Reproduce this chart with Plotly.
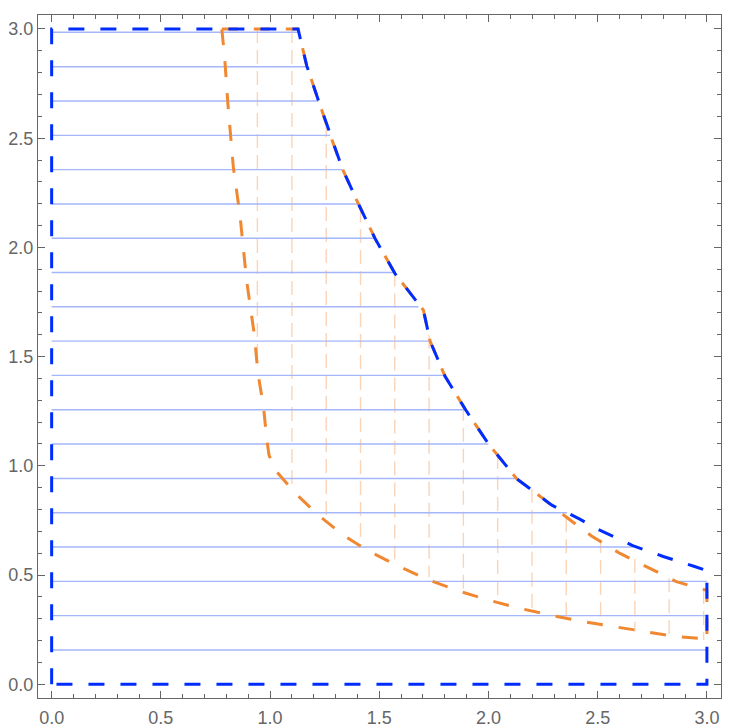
import plotly.graph_objects as go

# --- data ---

# blue region boundary (closed)
blue_x = [0.0, 0.0, 1.128, 1.168, 1.221, 1.275, 1.331, 1.404, 1.481, 1.572, 1.702,
          1.733, 1.801, 1.893, 2.0, 2.13, 2.29, 2.42, 2.5, 2.66, 2.8, 2.94, 3.0, 3.0, 0.0]
blue_y = [0.0, 3.0, 3.0, 2.831, 2.674, 2.515, 2.36, 2.2, 2.04, 1.88, 1.713,
          1.57, 1.41, 1.26, 1.1, 0.94, 0.82, 0.755, 0.71, 0.635, 0.585, 0.54, 0.52, 0.0, 0.0]

# orange region boundary (closed)
orange_x = [0.779, 1.128, 1.168, 1.221, 1.275, 1.331, 1.404, 1.481, 1.572, 1.702,
            1.733, 1.801, 1.893, 2.0, 2.13, 2.25, 2.35, 2.47, 2.6, 2.72, 2.86, 2.97, 3.0,
            3.0, 2.98, 2.86, 2.72, 2.57, 2.43, 2.29, 2.15, 2.0, 1.86, 1.72, 1.59, 1.45,
            1.335, 1.22, 1.115, 1.02, 0.995, 0.985, 0.97, 0.945, 0.928, 0.893, 0.862,
            0.832, 0.807, 0.792, 0.779]
orange_y = [3.0, 3.0, 2.831, 2.674, 2.515, 2.36, 2.2, 2.04, 1.88, 1.713,
            1.57, 1.41, 1.26, 1.1, 0.94, 0.85, 0.77, 0.68, 0.60, 0.54, 0.47, 0.438, 0.43,
            0.2, 0.209, 0.218, 0.24, 0.262, 0.287, 0.315, 0.346, 0.385, 0.428, 0.48, 0.54, 0.61,
            0.683, 0.775, 0.875, 0.985, 1.05, 1.12, 1.27, 1.42, 1.6, 1.845, 2.15,
            2.365, 2.655, 2.87, 3.0]

# horizontal hatching of the blue region: height and right end
hatch_y = [0.157, 0.314, 0.471, 0.628, 0.785, 0.942, 1.100, 1.257, 1.414, 1.571,
           1.728, 1.885, 2.042, 2.199, 2.356, 2.513, 2.670, 2.827, 2.985]
hatch_x_end = [3.0, 3.0, 3.0, 2.66, 2.36, 2.13, 2.0, 1.89, 1.80, 1.733,
               1.68, 1.572, 1.481, 1.40, 1.33, 1.275, 1.22, 1.168, 1.128]

# vertical hatching of the orange region: position, bottom and top
vhatch_x = [0.942, 1.100, 1.257, 1.414, 1.571, 1.728, 1.885, 2.042, 2.199, 2.356,
            2.513, 2.670, 2.827, 2.985]
vhatch_lo = [1.46, 0.896, 0.751, 0.64, 0.55, 0.49, 0.42, 0.375, 0.335, 0.295,
             0.265, 0.24, 0.218, 0.203]
vhatch_hi = [3.0, 3.0, 2.57, 2.18, 1.885, 1.6, 1.27, 1.05, 0.895, 0.76,
             0.665, 0.575, 0.485, 0.432]

BLUE = "rgb(0,45,255)"
ORANGE = "rgb(240,136,50)"
GREY = "#666666"

# segments with None separators
hx, hy = [], []
for y, xe in zip(hatch_y, hatch_x_end):
    hx += [0.0, xe, None]
    hy += [y, y, None]

vx, vy = [], []
for x, lo, hi in zip(vhatch_x, vhatch_lo, vhatch_hi):
    vx += [x, x, None]
    vy += [hi, lo, None]

fig = go.Figure()

fig.add_trace(go.Scatter(x=vx, y=vy, mode="lines",
                         line=dict(color="rgb(250,212,182)", width=1.4, dash="14px,7px"),
                         hoverinfo="skip", showlegend=False))
fig.add_trace(go.Scatter(x=hx, y=hy, mode="lines",
                         line=dict(color="rgb(165,182,250)", width=1.4),
                         hoverinfo="skip", showlegend=False))
fig.add_trace(go.Scatter(x=orange_x, y=orange_y, mode="lines",
                         line=dict(color=ORANGE, width=3, dash="16px,16px"),
                         hoverinfo="skip", showlegend=False))
fig.add_trace(go.Scatter(x=blue_x, y=blue_y, mode="lines",
                         line=dict(color=BLUE, width=3, dash="16px,16px"),
                         hoverinfo="skip", showlegend=False))

axis_style = dict(
    showgrid=False, zeroline=False, automargin=False,
    showline=True, linecolor=GREY, linewidth=1.2, mirror="ticks",
    ticks="inside", ticklen=7, tickwidth=1.2, tickcolor=GREY,
    tick0=0, dtick=0.5, tickformat=".1f",
    tickfont=dict(family="Liberation Sans, Arial, sans-serif", size=18, color=GREY),
    minor=dict(ticks="inside", tick0=0, dtick=0.1, ticklen=4, tickwidth=1, tickcolor=GREY),
)

# the page body adds an 8px offset, so margins are shifted to compensate
fig.update_layout(
    width=736, height=728,
    margin=dict(l=30, r=23, t=7, b=38),
    paper_bgcolor="white", plot_bgcolor="white",
    xaxis=dict(range=[-0.0625, 3.0645], ticklabelstandoff=3, **axis_style),
    yaxis=dict(range=[-0.063, 3.064], **axis_style),
)

fig.write_html("out.html")
